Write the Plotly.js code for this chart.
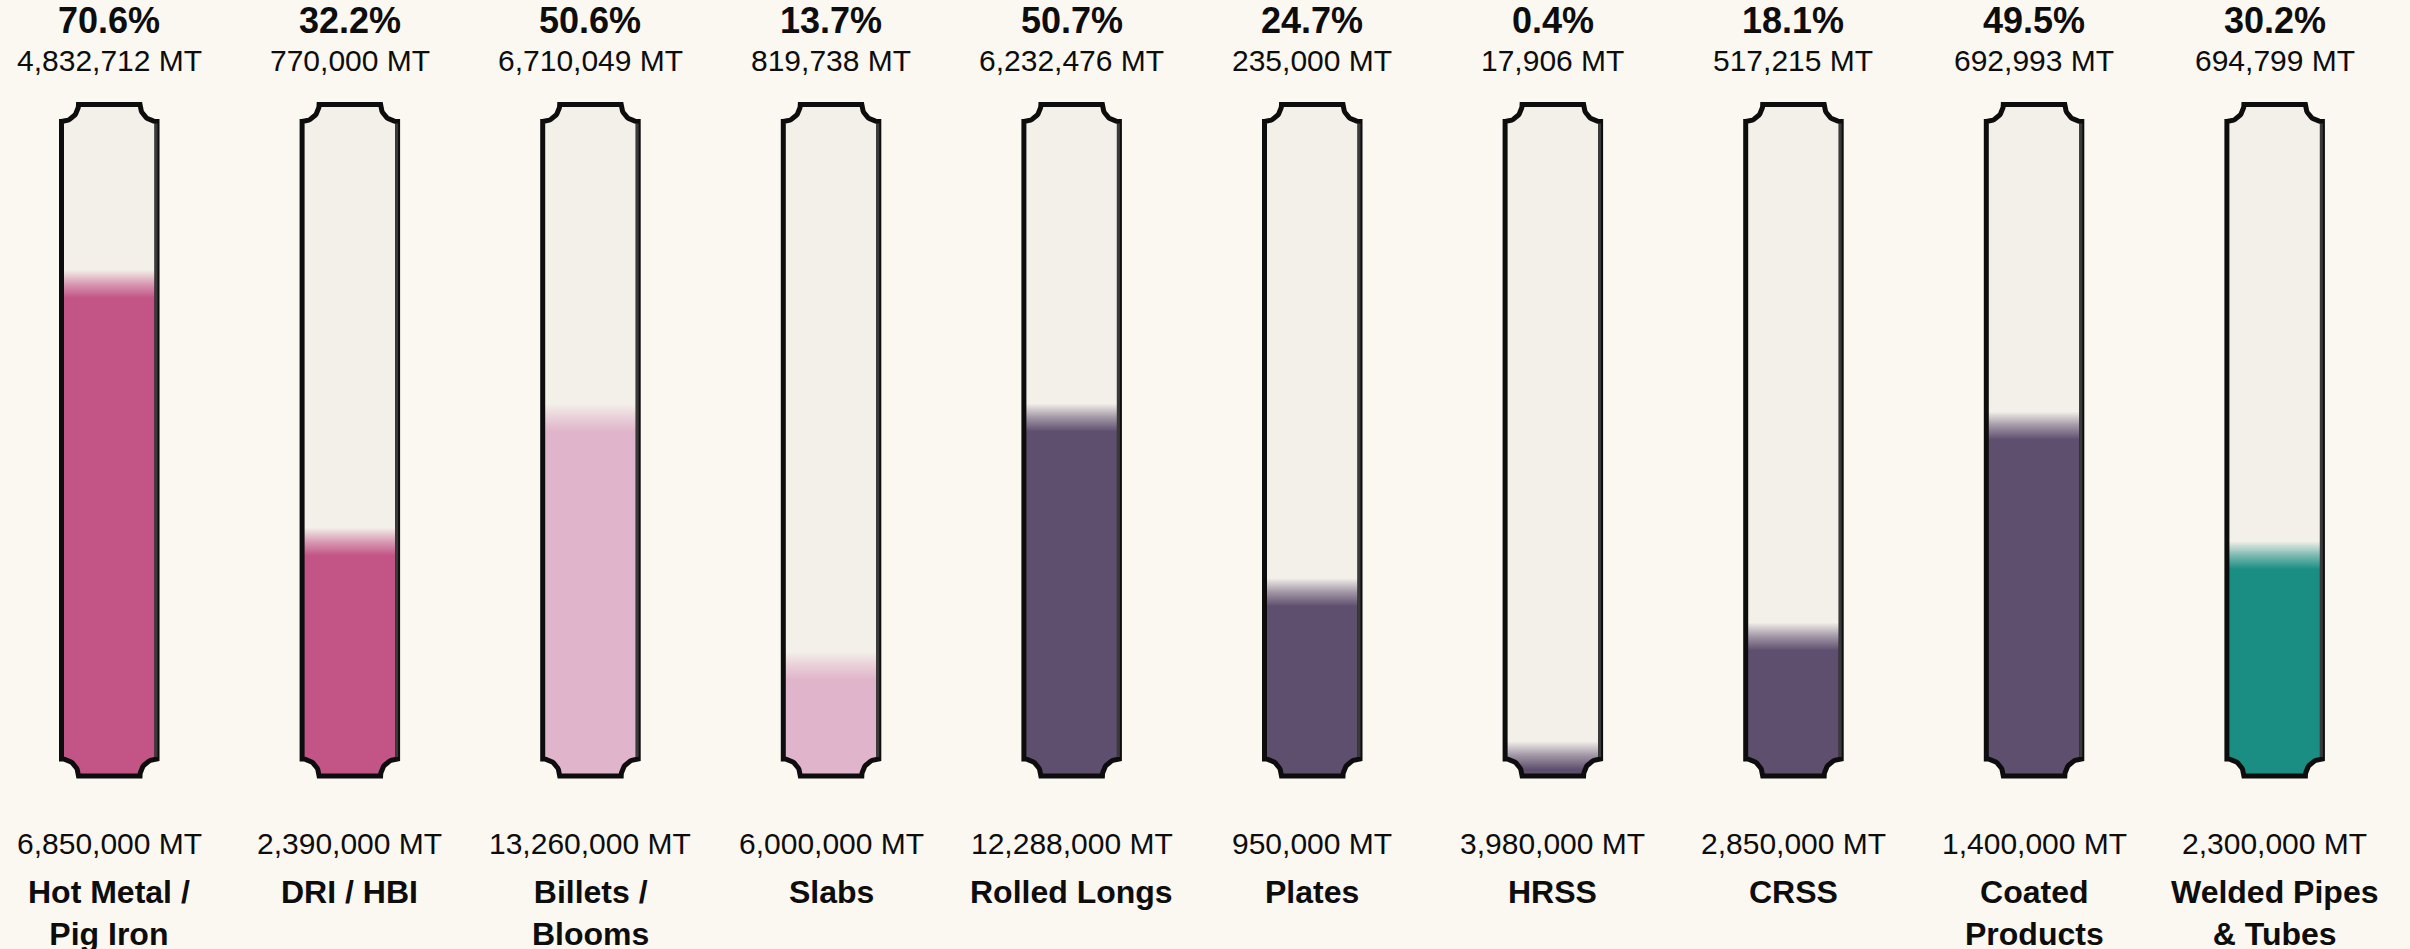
<!DOCTYPE html>
<html><head><meta charset="utf-8">
<script src="https://cdn.plot.ly/plotly-3.0.1.min.js"></script>
<style>html,body{margin:0;padding:0;background:#fbf7f1;overflow:hidden;} #chart{width:2410px;height:949px;}</style>
</head><body><div id="chart"></div>
<script>
// ---- data ----
const categories = ['Hot Metal /<br>Pig Iron', 'DRI / HBI', 'Billets /<br>Blooms', 'Slabs', 'Rolled Longs', 'Plates', 'HRSS', 'CRSS', 'Coated<br>Products', 'Welded Pipes<br>& Tubes'];
const production = [4832712, 770000, 6710049, 819738, 6232476, 235000, 17906, 517215, 692993, 694799];
const capacity = [6850000, 2390000, 13260000, 6000000, 12288000, 950000, 3980000, 2850000, 1400000, 2300000];
const utilization = [70.6, 32.2, 50.6, 13.7, 50.7, 24.7, 0.4, 18.1, 49.5, 30.2];
const stageColors = ['#c25486', '#c25486', '#e0b4ca', '#e0b4ca', '#5f4f6f', '#5f4f6f', '#5f4f6f', '#5f4f6f', '#5f4f6f', '#1b8e84'];

// ---- style constants ----
const W = 2410, H = 949;
const PX_X = 240.6, X0_PX = 109.25;
const Y0_PX = 776, Y100_PX = 104.5;
const PX_Y = (Y0_PX - Y100_PX) / 100;
const HALF_W = 47.75 / PX_X;
const RX = 17 / PX_X, RY = 17 / PX_Y;
const FADE = 28 / PX_Y, LIFT = 4 / PX_Y;
const BG = '#fbf7f1', TUBE_BG = '#f3efe9';
const FONT = 'Liberation Sans, Arial, Helvetica, sans-serif';
const N = 16;

function hexToRgba(h, a) {
  const r = parseInt(h.slice(1,3),16), g = parseInt(h.slice(3,5),16), b = parseInt(h.slice(5,7),16);
  return `rgba(${r},${g},${b},${a})`;
}

function outline(i) {
  const xL = i - HALF_W, xR = i + HALF_W, yB = 0, yT = 100;
  const xs = [], ys = [];
  const push = (x, y) => { xs.push(x); ys.push(y); };
  for (let k = 0; k <= N; k++) { const t = -Math.PI/2 + k/N*Math.PI/2; push(xL + RX*Math.cos(t), yT + RY*Math.sin(t)); }
  for (let k = 0; k <= N; k++) { const t = Math.PI + k/N*Math.PI/2; push(xR + RX*Math.cos(t), yT + RY*Math.sin(t)); }
  for (let k = 0; k <= N; k++) { const t = Math.PI/2 + k/N*Math.PI/2; push(xR + RX*Math.cos(t), yB + RY*Math.sin(t)); }
  for (let k = 0; k <= N; k++) { const t = k/N*Math.PI/2; push(xL + RX*Math.cos(t), yB + RY*Math.sin(t)); }
  push(xs[0], ys[0]); push(xs[1], ys[1]);
  return {xs, ys};
}

function inset(y) {
  if (y < RY) { const u = y / RY; return RX * Math.sqrt(Math.max(0, 1 - u*u)); }
  if (y > 100 - RY) { const u = (100 - y) / RY; return RX * Math.sqrt(Math.max(0, 1 - u*u)); }
  return 0;
}

function fillShape(i, top) {
  top = Math.min(top, 100);
  let yv = [];
  for (let k = 0; k <= N; k++) { yv.push(RY * Math.sin(k/N*Math.PI/2)); yv.push(100 - RY * Math.sin(k/N*Math.PI/2)); }
  yv = yv.filter(v => v < top); yv.push(top);
  yv.sort((a,b) => a-b);
  const xs = [], ys = [];
  yv.forEach(y => { xs.push(i - HALF_W + inset(y)); ys.push(y); });
  for (let k = yv.length - 1; k >= 0; k--) { const y = yv[k]; xs.push(i + HALF_W - inset(y)); ys.push(y); }
  xs.push(xs[0]); ys.push(ys[0]);
  return {xs, ys};
}

const traces = [];
const annotations = [];
const pxToPaper = p => 1 - p / H;

categories.forEach((cat, i) => {
  const o = outline(i);
  traces.push({type:'scatter', mode:'lines', x:o.xs, y:o.ys, fill:'toself', fillcolor:TUBE_BG, line:{width:0, color:TUBE_BG}, hoverinfo:'skip'});
  const lvl = utilization[i];
  const f = fillShape(i, lvl + LIFT + FADE);
  traces.push({type:'scatter', mode:'lines', x:f.xs, y:f.ys, fill:'toself', line:{width:0, color:'rgba(0,0,0,0)'},
    fillgradient:{type:'vertical', start: lvl + LIFT, stop: lvl + LIFT + FADE,
      colorscale:[[0, stageColors[i]], [0.5, hexToRgba(stageColors[i], 0.55)], [1, hexToRgba(stageColors[i], 0)]]}, hoverinfo:'skip'});
  traces.push({type:'scatter', mode:'lines', x:o.xs, y:o.ys, line:{width:5, color:'#0d0d0d', shape:'linear'}, hoverinfo:'skip'});
  traces.push({type:'scatter', mode:'lines', x:[i + HALF_W - 1/PX_X, i + HALF_W - 1/PX_X], y:[100 - RY - 0.3, RY + 0.3], line:{width:3, color:'#3a3a3a'}, hoverinfo:'skip'});

  annotations.push({x:i, xref:'x', y:pxToPaper(21), yref:'paper', yanchor:'middle', showarrow:false,
    text:'<b>' + lvl.toFixed(1) + '%</b>', font:{family:FONT, size:36, color:'#0d0d0d'}});
  annotations.push({x:i, xref:'x', y:pxToPaper(61), yref:'paper', yanchor:'middle', showarrow:false,
    text:production[i].toLocaleString('en-US') + ' MT', font:{family:FONT, size:30, color:'#0d0d0d'}});
  annotations.push({x:i, xref:'x', y:pxToPaper(843), yref:'paper', yanchor:'middle', showarrow:false,
    text:capacity[i].toLocaleString('en-US') + ' MT', font:{family:FONT, size:30, color:'#0d0d0d'}});
  annotations.push({x:i, xref:'x', y:pxToPaper(872), yref:'paper', yanchor:'top', showarrow:false,
    text:'<b>' + cat + '</b>', font:{family:FONT, size:32, color:'#0d0d0d'}});
});

const layout = {
  width: W, height: H,
  margin: {l:0, r:0, t:0, b:0, pad:0},
  paper_bgcolor: BG, plot_bgcolor: BG,
  showlegend: false, hovermode: false,
  xaxis: {range:[-X0_PX/PX_X, (W - X0_PX)/PX_X], visible:false, fixedrange:true},
  yaxis: {range:[-(H - Y0_PX)/PX_Y, Y0_PX/PX_Y], visible:false, fixedrange:true},
  annotations: annotations
};
Plotly.newPlot('chart', traces, layout, {displayModeBar:false, staticPlot:true});
</script>
</body></html>
